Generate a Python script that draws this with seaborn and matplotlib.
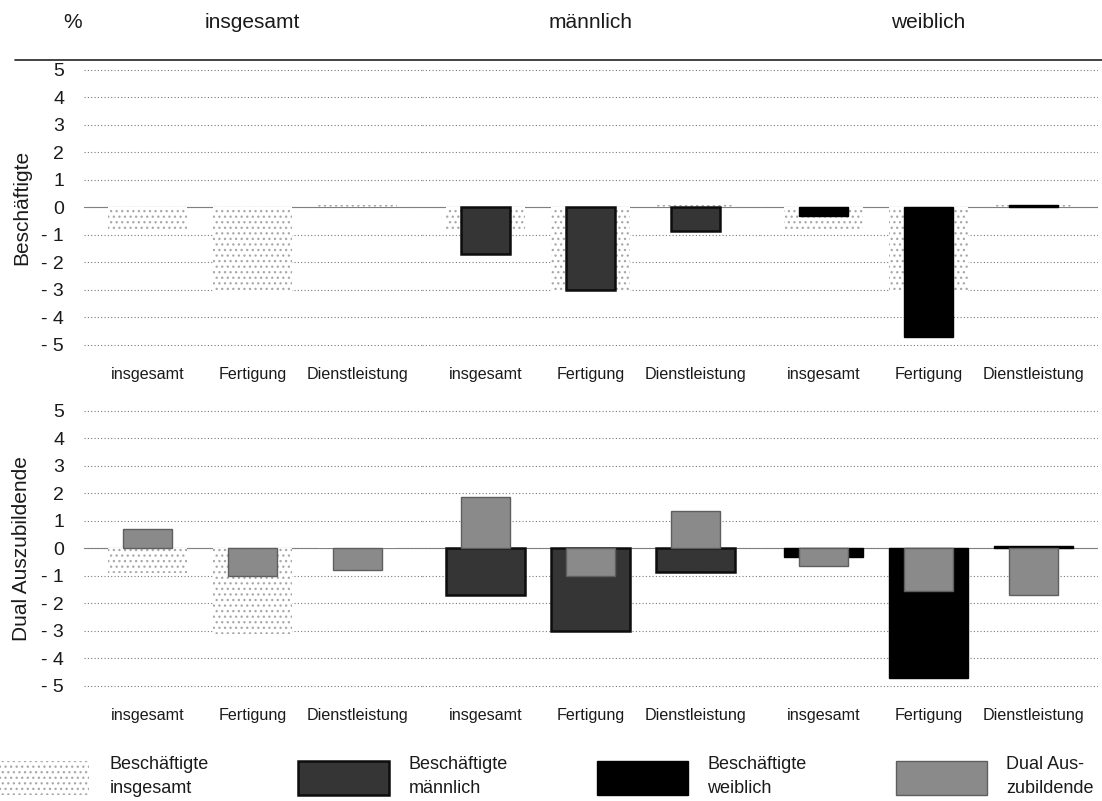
import matplotlib
matplotlib.use("Agg")
import matplotlib.pyplot as plt
import seaborn as sns
import pandas as pd
from matplotlib.patches import Patch
from matplotlib.lines import Line2D

# Categories, groups and row titles
categories = ["insgesamt", "Fertigung", "Dienstleistung"]
groups = ["insgesamt", "männlich", "weiblich"]
row_titles = ["Beschäftigte", "Dual Auszubildende"]

# Change in % (Beschäftigte = employees, Dual = apprentices)
besch_insgesamt = [-0.9, -3.1, 0.1]
besch_maennlich = [-1.7, -3.0, -0.85]
besch_weiblich = [-0.3, -4.7, 0.1]
dual_insgesamt = [0.7, -1.0, -0.8]
dual_maennlich = [1.85, -1.0, 1.35]
dual_weiblich = [-0.65, -1.55, -1.7]

y_ticks = [5, 4, 3, 2, 1, 0, -1, -2, -3, -4, -5]
y_tick_labels = ["5", "4", "3", "2", "1", "0", "- 1", "- 2", "- 3", "- 4", "- 5"]

legend_labels = ["Beschäftigte\ninsgesamt", "Beschäftigte\nmännlich",
                 "Beschäftigte\nweiblich", "Dual Aus-\nzubildende"]

sns.set_theme(style="white")
plt.rcParams["font.family"] = ["Liberation Sans", "DejaVu Sans"]
plt.rcParams["hatch.linewidth"] = 0.9
TEXT = "#1a1a1a"

styles = {
    "bi": dict(color="white", edgecolor="#a8a8a8", hatch="...", linewidth=0),
    "bm": dict(color="#353535", edgecolor="#0d0d0d", linewidth=1.8),
    "bw": dict(color="#000000", edgecolor="#000000", linewidth=1.0),
    "du": dict(color="#8a8a8a", edgecolor="#5e5e5e", linewidth=1.0),
}

series = {
    "bi": besch_insgesamt, "bm": besch_maennlich, "bw": besch_weiblich,
}
# (wide bar in the back, narrow bar in front) for every panel
panels = [
    [("bi", None, None), ("bi", "bm", None), ("bi", "bw", None)],
    [("bi", "du", dual_insgesamt), ("bm", "du", dual_maennlich), ("bw", "du", dual_weiblich)],
]

W, H = 1102, 801
fig = plt.figure(figsize=(W / 100, H / 100), dpi=100)

panel_w = 338 / W
lefts = [83.5 / W + i * panel_w for i in range(3)]
row_bottoms = [1 - 358.5 / H, 1 - 699.5 / H]
row_h = 302.5 / H

for r in range(2):
    for c in range(3):
        ax = fig.add_axes([lefts[c], row_bottoms[r], panel_w, row_h])
        back, front, front_vals = panels[r][c]
        df_back = pd.DataFrame({"cat": categories, "val": series[back]})
        sns.barplot(data=df_back, x="cat", y="val", order=categories, ax=ax,
                    width=0.76, saturation=1, zorder=2, **styles[back])
        if front is not None:
            vals = front_vals if front_vals is not None else series[front]
            df_front = pd.DataFrame({"cat": categories, "val": vals})
            sns.barplot(data=df_front, x="cat", y="val", order=categories, ax=ax,
                        width=0.46, saturation=1, zorder=3, **styles[front])
        ax.set_xlim(-0.61, 2.61)
        ax.set_ylim(-5.5, 5.5)
        ax.set_yticks(y_ticks)
        ax.grid(axis="y", color="#7a7a7a", linestyle=(0, (1, 2)), linewidth=0.8, zorder=0)
        ax.axhline(0, color="#808080", linewidth=0.8, zorder=1)
        ax.set_xlabel("")
        ax.set_ylabel("")
        for s in ax.spines.values():
            s.set_visible(False)
        ax.tick_params(axis="x", length=0, pad=6)
        ax.set_xticks(range(3))
        ax.set_xticklabels(categories, fontsize=11.6, color=TEXT)
        if c == 0:
            ax.set_yticklabels(y_tick_labels, fontsize=14, color=TEXT)
            ax.tick_params(axis="y", length=0, pad=14)
        else:
            ax.tick_params(axis="y", length=0, labelleft=False)
        if r == 0:
            fig.text(lefts[c] + panel_w / 2, 1 - 22 / H, groups[c],
                     ha="center", va="center", fontsize=15, color=TEXT)
    fig.text(22 / W, row_bottoms[r] + row_h / 2, row_titles[r], rotation=90,
             ha="center", va="center", fontsize=15, color=TEXT)

fig.text(73 / W, 1 - 22 / H, "%", ha="center", va="center", fontsize=15, color=TEXT)
fig.add_artist(Line2D([15 / W, 1.0], [1 - 60 / H, 1 - 60 / H],
                      transform=fig.transFigure, color="#222222", linewidth=1.2))

handles = [Patch(facecolor=styles[k]["color"], edgecolor=styles[k]["edgecolor"],
                 hatch=styles[k].get("hatch"), linewidth=styles[k]["linewidth"])
           for k in ["bi", "bm", "bw", "du"]]
leg = fig.legend(handles, legend_labels, loc="lower left", ncol=4,
                 bbox_to_anchor=(-0.004, 0.0, 1.0, 0.075), mode="expand",
                 frameon=False, handlelength=5.0, handleheight=2.5,
                 handletextpad=1.1, borderaxespad=0.0, borderpad=0.2,
                 prop={"size": 13})
for t in leg.get_texts():
    t.set_linespacing(1.55)
    t.set_color(TEXT)

fig.savefig("out.png", dpi=100)
